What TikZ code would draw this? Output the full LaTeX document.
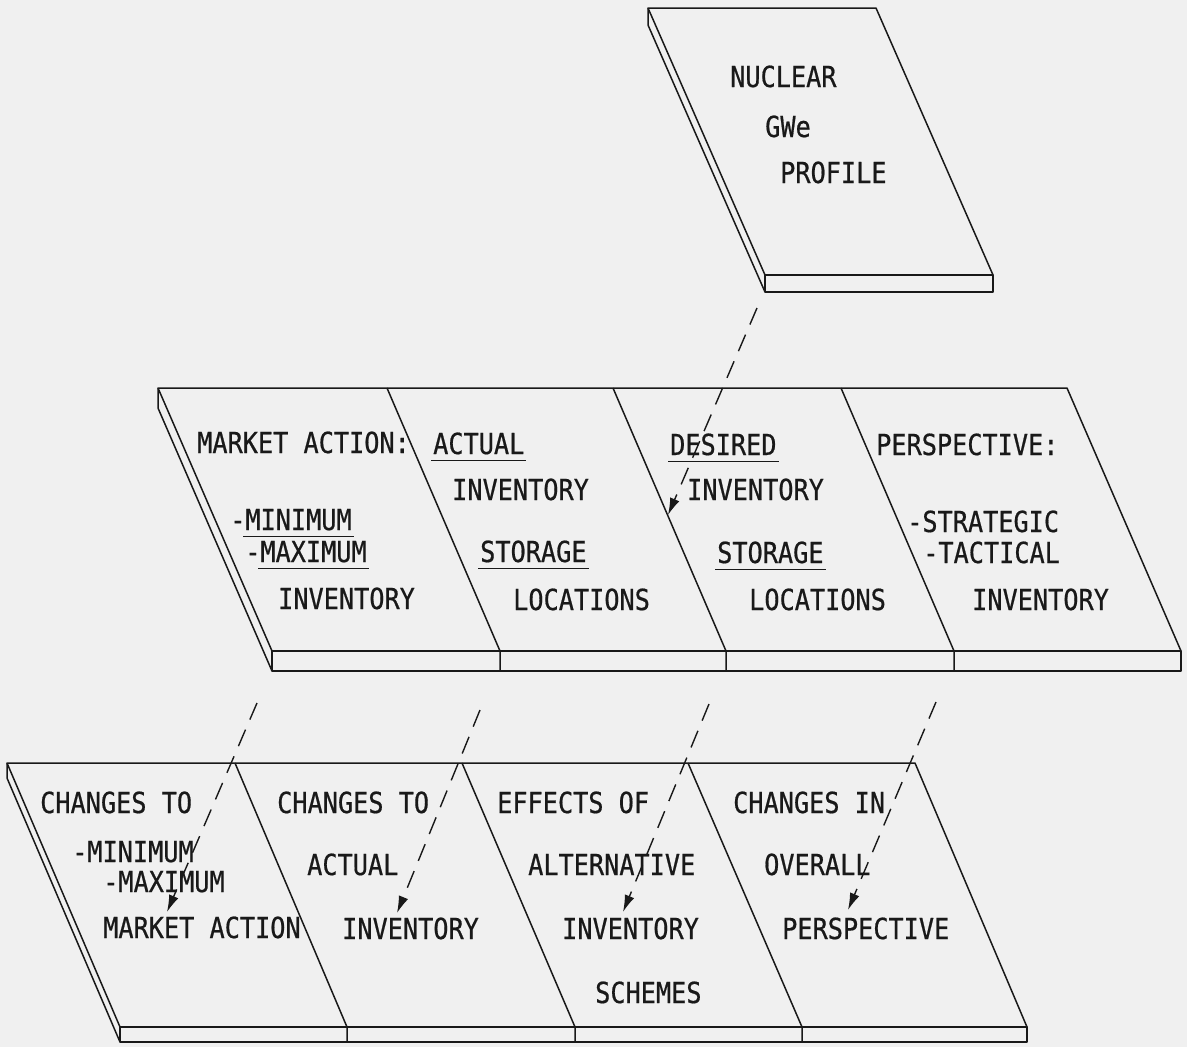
\documentclass[tikz,border=0pt]{standalone}
\usepackage{fontspec}
\newfontfamily\typer[FakeStretch=0.87,FakeBold=0.6]{DejaVu Sans Mono}
\usetikzlibrary{arrows.meta}

\definecolor{paper}{RGB}{240,240,240}
\definecolor{ink}{RGB}{25,25,25}
\newcommand{\ulword}[1]{\setbox0=\hbox{#1}\rlap{\kern-2pt\rule[-7pt]{\dimexpr\wd0+4pt\relax}{1.4pt}}\box0}

\begin{document}
\begin{tikzpicture}[x=1pt, y=-1pt,
        edge/.style={draw=ink, line width=1.5pt, line join=round},
        lbl/.style={anchor=base west, inner sep=0pt, text=ink, font=\typer\fontsize{29}{34}\selectfont},
        flow/.style={draw=ink, line width=1.4pt, dash pattern=on 18pt off 11pt, -{Latex[length=17pt,width=10pt]}}
        ]
        \useasboundingbox (0,0) rectangle (1187,1047);
        \fill[paper] (0,0) rectangle (1187,1047);

        % top slab
        \draw[edge] (648,8) -- (876,8) -- (993,275) -- (765,275) -- cycle;
        \draw[edge] (765,275) rectangle (993,292);
        \draw[edge] (648,8) -- (648,25) -- (765,292);

        % middle slab
        \draw[edge] (158,388) -- (1067,388) -- (1181,651) -- (272,651) -- cycle;
        \draw[edge] (272,651) rectangle (1181,671);
        \draw[edge] (158,388) -- (158,408) -- (272,671);
        \foreach \t/\b in {387/500, 613/726, 841/954}
            \draw[edge] (\t,388) -- (\b,651) -- (\b,671);

        % bottom slab
        \draw[edge] (7,763) -- (915,763) -- (1027,1027) -- (120,1027) -- cycle;
        \draw[edge] (120,1027) rectangle (1027,1042);
        \draw[edge] (7,763) -- (7,778) -- (120,1042);
        \foreach \t/\b in {235/347, 462/575, 688/802}
            \draw[edge] (\t,763) -- (\b,1027) -- (\b,1042);

        % top labels
        \node[lbl] (nuclear) at (730,87) {NUCLEAR};
        \node[lbl] (gwe) at (765,137) {GWe};
        \node[lbl] (profile) at (780,183) {PROFILE};

        % middle labels
        \node[lbl] (mktaction) at (197,453) {MARKET ACTION:};
        \node[lbl] (minimum) at (230,530) {-\ulword{MINIMUM}};
        \node[lbl] (maximum) at (245,562) {-\ulword{MAXIMUM}};
        \node[lbl] (mkinv) at (278,609) {INVENTORY};
        \node[lbl] (actual) at (433,454) {\ulword{ACTUAL}};
        \node[lbl] (actinv) at (452,500) {INVENTORY};
        \node[lbl] (actstore) at (480,562) {\ulword{STORAGE}};
        \node[lbl] (actloc) at (513,610) {LOCATIONS};
        \node[lbl] (desired) at (670,455) {\ulword{DESIRED}};
        \node[lbl] (desinv) at (687,500) {INVENTORY};
        \node[lbl] (desstore) at (717,563) {\ulword{STORAGE}};
        \node[lbl] (desloc) at (749,610) {LOCATIONS};
        \node[lbl] (persp) at (876,455) {PERSPECTIVE:};
        \node[lbl] (strategic) at (907,532) {-STRATEGIC};
        \node[lbl] (tactical) at (923,563) {-TACTICAL};
        \node[lbl] (perinv) at (972,610) {INVENTORY};

        % bottom labels
        \node[lbl] (chg1) at (40,813) {CHANGES TO};
        \node[lbl] (chgmin) at (72,862) {-MINIMUM};
        \node[lbl] (chgmax) at (103,892) {-MAXIMUM};
        \node[lbl] (chgmkt) at (103,938) {MARKET ACTION};
        \node[lbl] (chg2) at (277,813) {CHANGES TO};
        \node[lbl] (chgact) at (307,875) {ACTUAL};
        \node[lbl] (chginv) at (342,939) {INVENTORY};
        \node[lbl] (effects) at (497,813) {EFFECTS OF};
        \node[lbl] (altern) at (528,875) {ALTERNATIVE};
        \node[lbl] (altinv) at (562,939) {INVENTORY};
        \node[lbl] (schemes) at (595,1003) {SCHEMES};
        \node[lbl] (chg3) at (733,813) {CHANGES IN};
        \node[lbl] (overall) at (764,875) {OVERALL};
        \node[lbl] (ovrper) at (782,939) {PERSPECTIVE};

        % dashed flows
        \coordinate (prof-out) at (757,308);
        \coordinate (des-in) at (668,515);
        \coordinate (mkt-out) at (257,703);
        \coordinate (mkt-in) at (167,912);
        \coordinate (act-out) at (480,710);
        \coordinate (act-in) at (397,913);
        \coordinate (des-out) at (709,704);
        \coordinate (alt-in) at (623,912);
        \coordinate (per-out) at (936,702);
        \coordinate (per-in) at (848,910);

        \foreach \a/\b in {prof-out/des-in, mkt-out/mkt-in, act-out/act-in, des-out/alt-in, per-out/per-in}
            \draw[flow] (\a) -- (\b);
    \end{tikzpicture}
\end{document}
